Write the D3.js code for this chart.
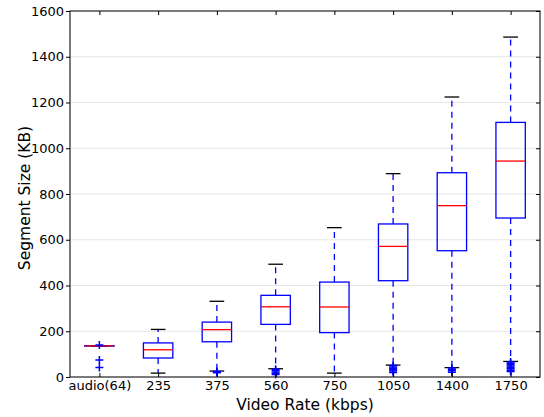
<!DOCTYPE html>
<html>
<head>
<meta charset="utf-8">
<script src="https://cdn.jsdelivr.net/npm/d3@7"></script>
<style>
  body { margin: 0; background: #fff; }
  svg, svg text { font-family: "DejaVu Sans", sans-serif; }
</style>
</head>
<body>
<div id="chart"></div>
<script>
// box statistics (KB)
var categories = ["audio(64)", "235", "375", "560", "750", "1050", "1400", "1750"];
var whiskerLow  = [135,  17,  26,  36,  17,  52,  41,   68];
var q1Values    = [135,  83, 154, 230, 194, 421, 552,  695];
var medians     = [136, 119, 207, 307, 306, 571, 749,  944];
var q3Values    = [137, 149, 240, 357, 415, 669, 893, 1113];
var whiskerHigh = [137, 208, 331, 493, 653, 889, 1224, 1486];
var outliers = [
  [140, 74, 41],
  [],
  [24, 21, 19],
  [34, 28, 22, 16, 11],
  [],
  [50, 44, 38, 32, 26, 20],
  [39, 33, 27, 21],
  [66, 60, 54, 48, 42, 36, 30, 24]
];
var yTicks = [0, 200, 400, 600, 800, 1000, 1200, 1400, 1600];

var margin = {top: 11, right: 4, bottom: 40, left: 70},
    width = 544 - margin.left - margin.right,
    height = 417 - margin.top - margin.bottom;

var svg = d3.select("#chart").append("svg")
    .attr("width", 544)
    .attr("height", 417)
  .append("g")
    .attr("transform", "translate(" + margin.left + "," + margin.top + ")");

var x = d3.scaleLinear().domain([0.5, categories.length + 0.5]).range([0, width]);
var y = d3.scaleLinear().domain([0, 1600]).range([height, 0]);

var boxW = x(1.25) - x(1);
var capW = x(1.125) - x(1);

// grid
svg.selectAll(".grid")
    .data(yTicks.slice(1, -1))
  .enter().append("line")
    .attr("x1", 0).attr("x2", width)
    .attr("y1", function(d) { return y(d); })
    .attr("y2", function(d) { return y(d); })
    .style("stroke", "#e6e6e6")
    .style("stroke-width", 1);

var boxes = categories.map(function(c, i) {
  return {name: c, pos: i + 1, lo: whiskerLow[i], q1: q1Values[i], med: medians[i],
          q3: q3Values[i], hi: whiskerHigh[i], out: outliers[i]};
});

var g = svg.selectAll(".box")
    .data(boxes)
  .enter().append("g")
    .attr("class", "box");

// whiskers
g.append("line")
    .attr("x1", function(d) { return x(d.pos); })
    .attr("x2", function(d) { return x(d.pos); })
    .attr("y1", function(d) { return y(d.q3); })
    .attr("y2", function(d) { return y(d.hi); })
    .style("stroke", "#0000ff").style("stroke-width", 1.3).style("stroke-dasharray", "6,5");
g.append("line")
    .attr("x1", function(d) { return x(d.pos); })
    .attr("x2", function(d) { return x(d.pos); })
    .attr("y1", function(d) { return y(d.q1); })
    .attr("y2", function(d) { return y(d.lo); })
    .style("stroke", "#0000ff").style("stroke-width", 1.3).style("stroke-dasharray", "6,5");

// caps
["hi", "lo"].forEach(function(k) {
  g.append("line")
      .attr("x1", function(d) { return x(d.pos) - capW; })
      .attr("x2", function(d) { return x(d.pos) + capW; })
      .attr("y1", function(d) { return y(d[k]); })
      .attr("y2", function(d) { return y(d[k]); })
      .style("stroke", "#000").style("stroke-width", 1.3);
});

// box
g.append("rect")
    .attr("x", function(d) { return x(d.pos) - boxW; })
    .attr("width", 2 * boxW)
    .attr("y", function(d) { return y(d.q3); })
    .attr("height", function(d) { return y(d.q1) - y(d.q3); })
    .style("fill", "none")
    .style("stroke", "#0000ff").style("stroke-width", 1.3);

// median
g.append("line")
    .attr("x1", function(d) { return x(d.pos) - boxW; })
    .attr("x2", function(d) { return x(d.pos) + boxW; })
    .attr("y1", function(d) { return y(d.med); })
    .attr("y2", function(d) { return y(d.med); })
    .style("stroke", "#ff0000").style("stroke-width", 1.3);

// outliers as + markers
g.each(function(d) {
  d3.select(this).selectAll(".flier")
      .data(d.out)
    .enter().append("path")
      .attr("class", "flier")
      .attr("d", function(v) {
        var cx = x(d.pos), cy = y(v);
        return "M" + (cx - 4) + "," + cy + "H" + (cx + 4) + "M" + cx + "," + (cy - 4) + "V" + (cy + 4);
      })
      .style("stroke", "#0000ff").style("stroke-width", 1.5);
});

// frame
svg.append("rect")
    .attr("width", width).attr("height", height)
    .style("fill", "none").style("stroke", "#222").style("stroke-width", 1.2);

// y axis
var yAxis = d3.axisLeft(y).tickValues(yTicks).tickFormat(d3.format("d")).tickSize(4).tickPadding(2);
svg.append("g")
    .attr("class", "y axis")
    .call(yAxis)
    .attr("font-family", null)
    .call(function(a) { a.select(".domain").remove(); })
    .selectAll("text").style("font-size", "13px").style("fill", "#000");

// right inner ticks
svg.append("g")
    .attr("transform", "translate(" + width + ",0)")
    .call(d3.axisLeft(y).tickValues(yTicks).tickSize(4).tickFormat(""))
    .call(function(a) { a.select(".domain").remove(); });

// x axis
var xAxis = d3.axisBottom(x).tickValues(d3.range(1, categories.length + 1))
    .tickFormat(function(d) { return categories[d - 1]; })
    .tickSizeInner(-4).tickSizeOuter(0).tickPadding(4);
svg.append("g")
    .attr("class", "x axis")
    .attr("transform", "translate(0," + height + ")")
    .call(xAxis)
    .attr("font-family", null)
    .call(function(a) { a.select(".domain").remove(); })
    .selectAll("text").style("font-size", "13px").style("fill", "#000");

// top inner ticks
svg.append("g")
    .call(d3.axisTop(x).tickValues(d3.range(1, categories.length + 1)).tickSizeInner(-4).tickSizeOuter(0).tickFormat(""))
    .call(function(a) { a.select(".domain").remove(); });

// axis labels
svg.append("text")
    .attr("x", width / 2)
    .attr("y", height + 33)
    .style("font-size", "15.5px")
    .style("text-anchor", "middle")
    .text("Video Rate (kbps)");

svg.append("text")
    .attr("transform", "rotate(-90)")
    .attr("x", -(198 - margin.top))
    .attr("y", -40)
    .style("font-size", "15.5px")
    .style("text-anchor", "middle")
    .text("Segment Size (KB)");
</script>
</body>
</html>
